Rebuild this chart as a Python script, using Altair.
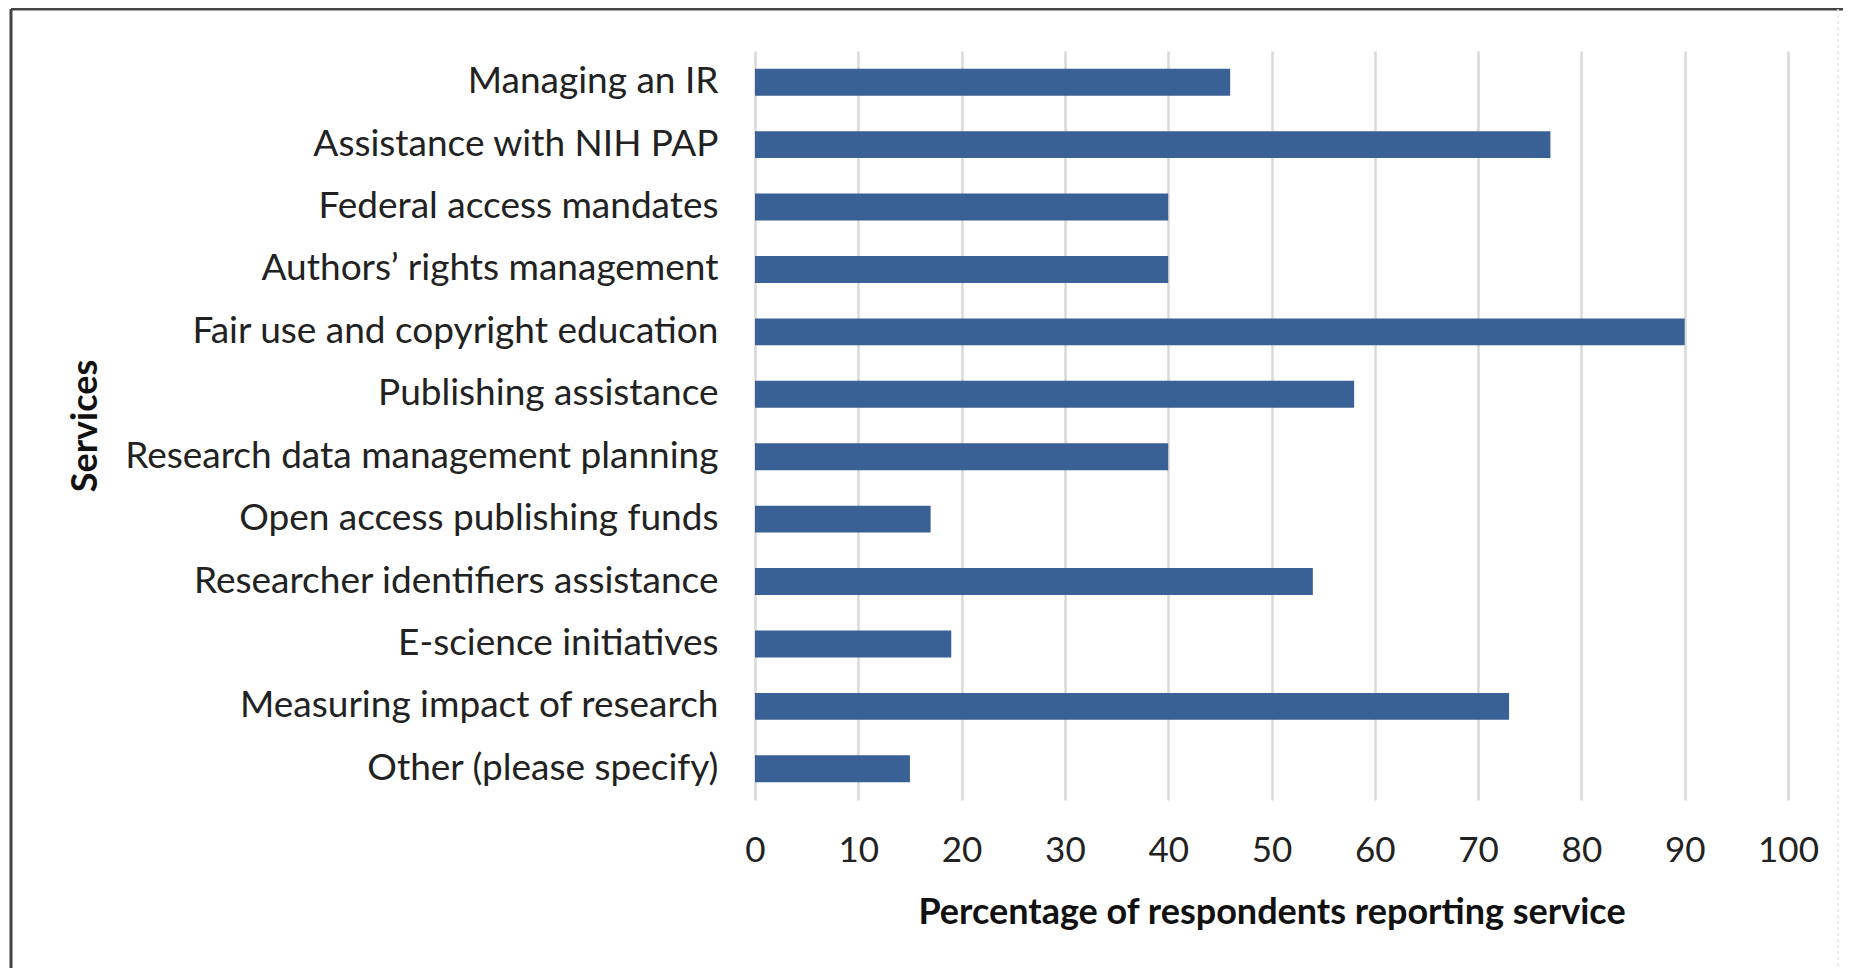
import altair as alt
import pandas as pd

services = [
    "Managing an IR",
    "Assistance with NIH PAP",
    "Federal access mandates",
    "Authors\u2019 rights management",
    "Fair use and copyright education",
    "Publishing assistance",
    "Research data management planning",
    "Open access publishing funds",
    "Researcher identifiers assistance",
    "E-science initiatives",
    "Measuring impact of research",
    "Other (please specify)",
]
percentages = [46, 77, 40, 40, 90, 58, 40, 17, 54, 19, 73, 15]
x_ticks = list(range(0, 101, 10))

df = pd.DataFrame({"Service": services, "Pct": percentages})
frame_df = pd.DataFrame({"k": [0]})

FONT = "Lato"
W, H = 1033, 749

bars = alt.Chart(df).mark_bar(color="#3A6195").encode(
    x=alt.X(
        "Pct:Q",
        scale=alt.Scale(domain=[0, 100], nice=False),
        axis=alt.Axis(
            values=x_ticks,
            title="Percentage of respondents reporting service",
            grid=True,
            gridColor="#d9d9d9",
            gridWidth=2.5,
            domain=False,
            ticks=False,
            labelFlush=False,
            labelFont=FONT,
            labelFontSize=35,
            labelColor="#222222",
            labelPadding=33,
            titleFont=FONT,
            titleFontSize=36,
            titleFontWeight="bold",
            titleColor="#111111",
            titlePadding=27,
        ),
    ),
    y=alt.Y(
        "Service:N",
        sort=services,
        scale=alt.Scale(paddingInner=0.57, paddingOuter=0.285),
        axis=alt.Axis(
            title="Services",
            grid=False,
            domain=False,
            ticks=False,
            labelFont=FONT,
            labelFontSize=37,
            labelColor="#222222",
            labelPadding=37,
            labelLimit=1000,
            titleFont=FONT,
            titleFontSize=36,
            titleFontWeight="bold",
            titleColor="#111111",
            titleX=-670,
            titleY=H / 2,
            titleAngle=270,
            titleBaseline="middle",
            titleAlign="center",
        ),
    ),
)

top_line = alt.Chart(frame_df).mark_rule(color="#444444", strokeWidth=3).encode(
    x=alt.value(-744), x2=alt.value(1090), y=alt.value(-42)
)
left_line = alt.Chart(frame_df).mark_rule(color="#444444", strokeWidth=3).encode(
    x=alt.value(-744), y=alt.value(-42), y2=alt.value(920)
)
right_line = alt.Chart(frame_df).mark_rule(color="#e6e6e6", strokeWidth=1.5, strokeDash=[3, 3]).encode(
    x=alt.value(1083), y=alt.value(-42), y2=alt.value(920)
)
bottom_line = alt.Chart(frame_df).mark_rule(color="#e6e6e6", strokeWidth=1.5, strokeDash=[3, 3]).encode(
    x=alt.value(-744), x2=alt.value(1083), y=alt.value(920)
)

chart = alt.layer(bars, top_line, left_line, right_line, bottom_line).properties(
    width=W,
    height=H,
    background="white",
    autosize=alt.AutoSizeParams(type="none"),
    padding={"left": 747, "top": 43, "right": 55, "bottom": 168},
).configure_view(stroke=None)

chart.save("out.html", embed_options={"renderer": "svg", "actions": False})
